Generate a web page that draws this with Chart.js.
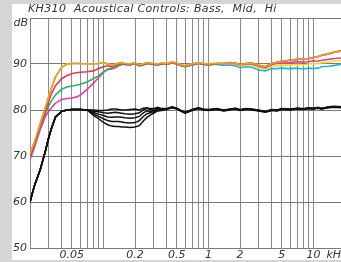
<!DOCTYPE html>
<html><head><meta charset="utf-8">
<script src="https://cdn.jsdelivr.net/npm/chart.js@4/dist/chart.umd.min.js"></script>
<style>
html,body{margin:0;padding:0;overflow:hidden;background:#d5d5d5;width:341px;height:262px;}
#panel{position:absolute;left:12px;top:4px;width:340px;height:256px;background:#fff;}
#wrap{position:absolute;left:0;top:0;width:346px;height:262px;}
</style></head><body>
<div id="panel"></div>
<div id="wrap"><canvas id="c" width="346" height="262"></canvas></div>
<script>
// Frequencies in kHz
const freqKHz = [0.02,0.022,0.025,0.028,0.03,0.032,0.035,0.04,0.045,0.05,0.055,0.06,0.07,0.08,0.09,0.1,0.11,0.12,0.13,0.14,0.15,0.16,0.18,0.2,0.22,0.24,0.26,0.28,0.3,0.33,0.36,0.4,0.45,0.5,0.55,0.6,0.7,0.8,0.9,1,1.2,1.4,1.6,1.8,2,2.3,2.6,3,3.5,4,4.5,5,6,7,8,9,10,11,12,14,16,18,20];

const orangeDB = [70.5,73.0,77.0,80.5,82.8,84.8,87.2,89.3,90.0,90.1,90.1,90.1,90.0,90.0,90.1,90.3,90.0,89.7,89.9,90.2,90.3,90.1,90.0,90.3,89.8,90.0,90.3,90.2,90.1,90.0,90.2,90.1,90.4,90.2,89.8,89.6,90.0,90.3,90.1,90.0,90.2,90.1,90.3,90.2,89.9,90.1,90.2,89.7,89.4,90.1,90.4,90.6,90.8,91.0,91.1,91.2,91.4,91.6,91.9,92.2,92.6,92.8,93.0];
const redDB = [70.0,72.5,76.5,79.7,81.8,83.5,85.3,86.8,87.5,87.9,88.1,88.2,88.3,88.5,89.0,89.4,89.6,89.4,89.7,90.0,90.2,90.0,89.9,90.2,89.7,89.9,90.2,90.1,90.0,89.9,90.1,90.0,90.3,90.1,89.7,89.5,89.9,90.2,90.0,89.9,90.1,90.1,90.3,90.2,89.9,90.1,90.2,89.7,89.4,90.1,90.4,90.6,90.8,91.0,91.1,91.2,91.4,91.6,91.9,92.2,92.6,92.8,93.0];
const greenDB = [69.8,72.3,76.2,79.2,80.8,82.0,83.3,84.5,85.0,85.2,85.4,85.6,86.1,86.8,87.4,88.3,88.9,89.1,89.5,89.8,90.0,89.9,89.8,90.1,89.6,89.8,90.1,90.0,89.9,89.8,90.0,89.9,90.2,90.0,89.6,89.4,89.8,90.1,89.9,89.8,90.0,90.1,90.3,90.2,89.9,90.1,90.2,89.7,89.4,90.1,90.4,90.6,90.8,91.0,91.1,91.2,91.4,91.6,91.9,92.2,92.6,92.8,93.0];
const pinkDB = [69.2,71.8,75.7,78.6,79.6,80.5,81.5,82.3,82.5,82.6,82.8,83.2,84.5,85.8,87.0,88.2,88.8,88.9,89.2,89.6,89.9,89.9,89.8,90.1,89.6,89.8,90.1,90.0,89.9,89.8,90.0,89.9,90.2,90.0,89.6,89.4,89.8,90.1,89.9,89.8,90.0,90.1,90.2,90.1,89.8,90.0,90.0,89.5,89.2,89.9,90.1,90.2,90.3,90.5,90.4,90.5,90.7,90.6,90.8,91.0,91.2,91.3,91.5];
const yellowDB = [70.5,73.0,77.0,80.5,82.8,84.8,87.2,89.3,90.0,90.1,90.1,90.1,90.0,90.0,90.1,90.3,90.0,89.7,89.9,90.2,90.3,90.1,90.0,90.3,89.8,90.0,90.3,90.2,90.1,90.0,90.2,90.1,90.4,90.2,89.8,89.6,90.0,90.3,90.1,90.0,90.2,90.0,90.1,90.0,89.6,89.8,89.8,89.2,88.9,89.5,89.6,89.7,89.8,89.9,89.8,90.0,90.1,90.0,90.3,90.4,90.6,90.7,90.9];
const cyanDB = [70.5,73.0,77.0,80.5,82.8,84.8,87.2,89.3,90.0,90.1,90.1,90.1,90.0,90.0,90.1,90.3,90.0,89.7,89.9,90.2,90.3,90.1,90.0,90.3,89.8,90.0,90.3,90.2,90.1,90.0,90.2,90.1,90.4,90.2,89.8,89.6,90.0,90.3,90.1,90.0,89.9,89.7,89.8,89.6,89.2,89.4,89.3,88.7,88.5,89.0,89.0,89.1,89.0,89.1,88.9,89.1,89.0,89.1,89.4,89.5,89.7,89.9,90.1];

const black1DB = [60.0,63.5,67.0,71.0,73.8,76.0,78.5,79.7,80.0,80.1,80.1,80.1,80.0,80.0,79.9,79.9,80.0,80.2,80.2,80.1,80.0,80.0,80.1,80.2,80.0,80.4,80.5,80.3,80.3,80.6,80.3,80.3,80.7,80.4,79.9,79.5,80.1,80.5,80.2,80.1,80.3,80.0,80.2,80.4,80.1,80.3,80.2,80.0,79.7,80.1,80.0,80.3,80.2,80.4,80.3,80.5,80.4,80.6,80.4,80.7,80.8,80.7,80.9];
const black2DB = [60.0,63.5,67.0,71.0,73.8,76.0,78.5,79.7,80.0,80.1,80.1,80.1,80.0,79.8,79.6,79.4,79.3,79.4,79.5,79.4,79.3,79.2,79.1,79.2,79.4,80.0,80.3,80.1,80.2,80.4,80.2,80.2,80.6,80.3,79.8,79.4,80.0,80.4,80.1,80.0,80.2,79.9,80.1,80.3,80.0,80.2,80.1,79.9,79.6,80.0,79.9,80.2,80.1,80.3,80.2,80.4,80.3,80.5,80.3,80.6,80.7,80.6,80.8];
const black3DB = [60.0,63.5,67.0,71.0,73.8,76.0,78.5,79.7,80.0,80.1,80.1,80.1,80.0,79.5,79.1,78.8,78.5,78.4,78.5,78.5,78.4,78.3,78.2,78.3,78.6,79.4,79.8,79.7,79.9,80.2,80.1,80.2,80.6,80.3,79.8,79.4,80.0,80.4,80.1,80.0,80.2,79.9,80.1,80.3,80.0,80.2,80.1,79.9,79.6,80.0,79.9,80.2,80.1,80.3,80.2,80.4,80.3,80.5,80.3,80.6,80.7,80.6,80.8];
const black4DB = [60.0,63.5,67.0,71.0,73.8,76.0,78.5,79.7,80.0,80.1,80.1,80.1,80.0,79.2,78.6,78.1,77.7,77.5,77.5,77.5,77.4,77.3,77.2,77.3,77.7,78.6,79.2,79.4,79.6,80.0,80.0,80.2,80.6,80.3,79.8,79.4,80.0,80.4,80.1,80.0,80.2,79.9,80.1,80.3,80.0,80.2,80.1,79.9,79.6,80.0,79.9,80.2,80.1,80.3,80.2,80.4,80.3,80.5,80.3,80.6,80.7,80.6,80.8];
const black5DB = [60.0,63.5,67.0,71.0,73.8,76.0,78.5,79.7,80.0,80.1,80.1,80.1,80.0,78.9,78.1,77.3,76.8,76.5,76.4,76.4,76.3,76.3,76.2,76.3,76.6,77.6,78.4,78.9,79.3,79.8,79.9,80.1,80.5,80.2,79.7,79.3,79.9,80.3,80.0,79.9,80.1,79.8,80.0,80.2,79.9,80.1,80.0,79.8,79.5,79.9,79.8,80.1,80.0,80.2,80.1,80.3,80.2,80.4,80.2,80.5,80.6,80.5,80.7];

// Axis ticks
const xGridKHz = [0.02,0.03,0.04,0.05,0.06,0.07,0.08,0.09,0.1,0.2,0.3,0.4,0.5,0.6,0.7,0.8,0.9,1,2,3,4,5,6,7,8,9,10,20];
const xTickValues = [0.05,0.2,0.5,1,2,5,10];
const xTickLabels = ['0.05','0.2','0.5','1','2','5','10'];
const yTickValues = [50,60,70,80,90];
const titleText = 'KH310  Acoustical Controls: Bass,  Mid,  Hi';
const yUnit = 'dB';
const xUnit = 'kHz';

const series = [
  {name:'orange', data: orangeDB, color:'#e6a02c'},
  {name:'red', data: redDB, color:'#ec3552'},
  {name:'green', data: greenDB, color:'#2fb25c'},
  {name:'pink', data: pinkDB, color:'#ec3a9e'},
  {name:'yellow', data: yellowDB, color:'#f0e01c'},
  {name:'cyan', data: cyanDB, color:'#24aee6'},
  {name:'b1', data: black1DB, color:'#111111'},
  {name:'b2', data: black2DB, color:'#111111'},
  {name:'b3', data: black3DB, color:'#111111'},
  {name:'b4', data: black4DB, color:'#111111'},
  {name:'b5', data: black5DB, color:'#111111'}
];

const FONT = '"DejaVu Sans", sans-serif';
const textPlugin = {
  id:'texts',
  afterDraw(chart){
    const c = chart.ctx;
    c.save();
    c.fillStyle = '#333';
    c.font = 'italic 11px ' + FONT;
    c.textBaseline = 'middle';
    c.textAlign = 'left';
    try { c.letterSpacing = '0.35px'; } catch(e) {}
    c.fillText(titleText, 28, 9);
    try { c.letterSpacing = '0px'; } catch(e) {}
    c.textAlign = 'right';
    c.fillText(yUnit, 28, 23);
    const xs = chart.scales.x;
    c.textAlign = 'left';
    c.fillText(xUnit, xs.getPixelForValue(10) + 13, 255);
    c.restore();
  }
};

new Chart(document.getElementById('c'), {
  type:'scatter',
  data:{datasets: series.map(s => ({
    label:s.name,
    data: freqKHz.map((f,i)=>({x:f, y:s.data[i]})),
    showLine:true, borderColor:s.color, backgroundColor:s.color,
    borderWidth: s.name[0]==='b' ? 1.5 : 1.6, pointRadius:0, tension:0
  }))},
  options:{
    responsive:false, animation:false,
    layout:{padding:{left:0,right:1,top:18,bottom:0}},
    plugins:{legend:{display:false}, tooltip:{enabled:false}, title:{display:false}},
    scales:{
      x:{type:'logarithmic', min:0.02, max:20,
        afterBuildTicks: s => { s.ticks = xGridKHz.map(v => ({value:v})); },
        afterFit: s => { s.height = 14; },
        ticks:{autoSkip:false, maxRotation:0, minRotation:0, padding:1, color:'#333',
          font:{family:FONT, style:'italic', size:11},
          callback:(v)=>{ const i = xTickValues.indexOf(v); return i>=0 ? xTickLabels[i] : ''; }},
        grid:{color:'#8a8a8a', lineWidth:1, drawTicks:false},
        border:{display:false}
      },
      y:{min:50, max:100,
        afterBuildTicks: s => { s.ticks = yTickValues.concat([100]).map(v => ({value:v})); },
        afterFit: s => { s.width = 30; },
        ticks:{padding:3, color:'#333', font:{family:FONT, style:'italic', size:11},
          callback:(v)=> yTickValues.includes(v) ? String(v) : ''},
        grid:{color:'#7a7a7a', lineWidth:1, drawTicks:false},
        border:{display:false}
      }
    }
  },
  plugins:[textPlugin]
});
</script>
</body></html>
